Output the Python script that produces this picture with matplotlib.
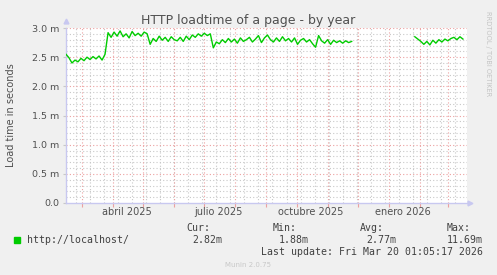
import matplotlib
matplotlib.use("Agg")
import matplotlib.pyplot as plt
from matplotlib.patches import Rectangle
import pandas as pd
import numpy as np

W, H = 497, 275

seg1_start = "2025-02-13"
seg1_vals = [2.55, 2.49, 2.40, 2.45, 2.42, 2.48, 2.44, 2.50, 2.46, 2.51, 2.47, 2.52,
             2.45, 2.55, 2.92, 2.84, 2.93, 2.86, 2.95, 2.85, 2.90, 2.83, 2.94, 2.87,
             2.91, 2.86, 2.93, 2.90, 2.72, 2.82, 2.77, 2.86, 2.79, 2.84, 2.77, 2.85,
             2.80, 2.78, 2.84, 2.77, 2.86, 2.80, 2.88, 2.84, 2.90, 2.86, 2.91, 2.87,
             2.90, 2.66, 2.76, 2.73, 2.80, 2.75, 2.82, 2.76, 2.81, 2.74, 2.83, 2.77,
             2.80, 2.84, 2.76, 2.81, 2.87, 2.75, 2.83, 2.88, 2.80, 2.76, 2.83, 2.77,
             2.85, 2.78, 2.82, 2.76, 2.83, 2.72, 2.79, 2.82, 2.76, 2.80, 2.73, 2.67,
             2.87, 2.78, 2.74, 2.80, 2.72, 2.79, 2.75, 2.78, 2.74, 2.78, 2.75, 2.77]
seg2_start = "2026-01-27"
seg2_vals = [2.85, 2.81, 2.77, 2.72, 2.77, 2.71, 2.79, 2.74, 2.80, 2.76, 2.81, 2.78,
             2.82, 2.84, 2.80, 2.85, 2.81]
step_days = 3

x_start = pd.Timestamp("2025-02-13 01:05")
x_end = pd.Timestamp("2026-03-20 01:05")
month_labels = ["abril 2025", "julio 2025", "octubre 2025", "enero 2026"]
label_dates = ["2025-04-15", "2025-07-15", "2025-10-15", "2026-01-15"]
y_ticks = [0.0, 0.5, 1.0, 1.5, 2.0, 2.5, 3.0]
y_ticklabels = ["0.0", "0.5 m", "1.0 m", "1.5 m", "2.0 m", "2.5 m", "3.0 m"]

legend_name = "http://localhost/"
stats = [("Cur:", "2.82m"), ("Min:", "1.88m"), ("Avg:", "2.77m"), ("Max:", "11.69m")]
last_update = "Last update: Fri Mar 20 01:05:17 2026"

green = "#00cc00"
bg = "#f0f0f0"
minor_c = "#c8c8c8"
major_c = "#eca0a0"
axis_c = "#c8c8f0"
text_c = "#505050"

fig = plt.figure(figsize=(W / 100, H / 100), dpi=100, facecolor=bg)


def fx(x):
    return x / W


def fy(y):
    return 1 - y / H


ax = fig.add_axes([fx(66), fy(203), fx(401), 175 / H])
ax.set_facecolor("white")
ax.set_xlim(x_start, x_end)
ax.set_ylim(0, 3.0)

# grid
for v in np.arange(0.1, 3.01, 0.1):
    if abs(v / 0.5 - round(v / 0.5)) > 1e-6:
        ax.axhline(v, color=minor_c, lw=0.8, ls=(0, (1, 2)), zorder=1)
for d in pd.date_range("2025-02-23", x_end, freq="14D"):
    ax.axvline(d, color=minor_c, lw=0.8, ls=(0, (1, 2)), zorder=1)
for v in y_ticks[1:]:
    ax.axhline(v, color=major_c, lw=0.8, ls=(0, (1, 2)), zorder=2)
month_starts = pd.date_range("2025-03-01", x_end, freq="MS")
for d in month_starts:
    ax.axvline(d, color=major_c, lw=0.8, ls=(0, (1, 2)), zorder=2)

# series
d1 = pd.date_range(seg1_start, periods=len(seg1_vals), freq=f"{step_days}D")
d2 = pd.date_range(seg2_start, periods=len(seg2_vals), freq=f"{step_days}D")
ax.plot(d1, seg1_vals, color=green, lw=1.0, zorder=3)
ax.plot(d2, seg2_vals, color=green, lw=1.0, zorder=3)

# axes styling
for s in ["top", "right"]:
    ax.spines[s].set_visible(False)
for s in ["left", "bottom"]:
    ax.spines[s].set_color(axis_c)
    ax.spines[s].set_linewidth(1.0)
ax.set_yticks(y_ticks)
ax.set_yticklabels(y_ticklabels, fontsize=6.8, color=text_c)
ax.tick_params(axis="y", length=2, color=minor_c, pad=3)
ax.set_xticks(month_starts)
ax.set_xticklabels([""] * len(month_starts))
ax.tick_params(axis="x", which="major", length=3, color=major_c)
ax.set_xticks(pd.to_datetime(label_dates), minor=True)
ax.set_xticklabels(month_labels, minor=True, fontsize=7, color=text_c)
ax.tick_params(axis="x", which="minor", length=0, pad=3)

# axis arrows
ax.plot([0], [1.04], marker="^", ms=3.5, color=axis_c, transform=ax.transAxes, clip_on=False)
ax.plot([1.008], [0], marker=">", ms=3.5, color=axis_c, transform=ax.transAxes, clip_on=False)

# texts
fig.text(fx(248), fy(24), "HTTP loadtime of a page - by year", ha="center",
         va="baseline", fontsize=9, color=text_c)
fig.text(fx(11), fy(115), "Load time in seconds", rotation=90, ha="center",
         va="center", fontsize=7, color=text_c)
fig.text(fx(488), fy(54), "RRDTOOL / TOBI OETIKER", rotation=-90, ha="center",
         va="center", fontsize=4.8, color="#c4c4c4")

mono = "DejaVu Sans Mono"
fig.patches.append(Rectangle((fx(14), fy(243)), fx(6), 6 / H, color=green,
                             transform=fig.transFigure, figure=fig))
fig.text(fx(27), fy(243), legend_name, family=mono, fontsize=7.1, color="#404040",
         va="baseline")
head_x = [186, 273, 360, 447]
val_x = [192, 279, 366, 447]
for (h, v), hx, vx in zip(stats, head_x, val_x):
    fig.text(fx(hx), fy(231), h, family=mono, fontsize=7.1, color="#404040", va="baseline")
    fig.text(fx(vx), fy(243), v, family=mono, fontsize=7.1, color="#404040", va="baseline")
fig.text(fx(483), fy(255), last_update, family=mono, fontsize=7.1, color="#404040",
         va="baseline", ha="right")
fig.text(fx(248), fy(267), "Munin 2.0.75", ha="center", va="baseline",
         fontsize=5, color="#c8c8c8")

fig.savefig("out.png", dpi=100, facecolor=bg)
